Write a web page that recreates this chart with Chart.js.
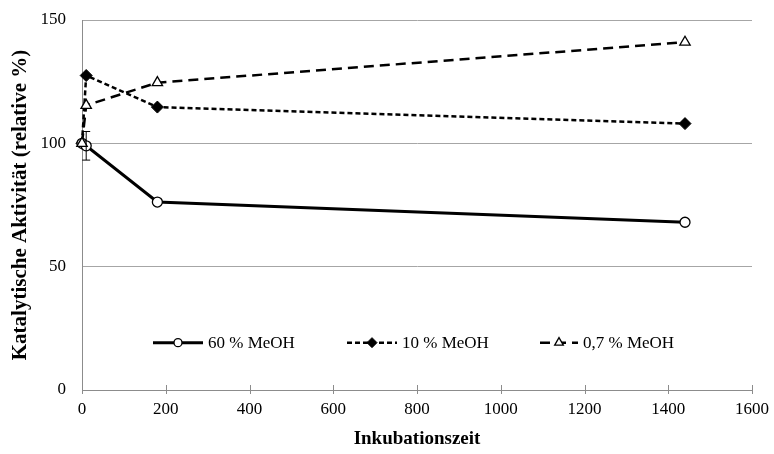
<!DOCTYPE html>
<html>
<head>
<meta charset="utf-8">
<script src="https://cdn.jsdelivr.net/npm/chart.js@4.4.1/dist/chart.umd.min.js"></script>
<style>
    html, body { margin: 0; padding: 0; background: #fff; }
    #wrap { width: 774px; height: 454px; }
</style>
</head>
<body>
<div id="wrap"><canvas id="aktivitaetChart"></canvas></div>
<script>
const zeit = [0, 10, 180, 1440];
const meoh60 = [100, 99, 76.2, 68];
const meoh10 = [100, 127.5, 114.7, 108];
const meoh07 = [100, 115.4, 124.6, 141];
const meoh60Fehler = [0, 5.8, 0, 0];
const xTicks = [0, 200, 400, 600, 800, 1000, 1200, 1400, 1600];
const yTicks = [0, 50, 100, 150];

const toPoints = (vals) => zeit.map((x, i) => ({ x: x, y: vals[i] }));
const serif = "'Liberation Serif', 'DejaVu Serif', serif";

// Fehlerbalken für 60 % MeOH
const errorBars = {
    id: "errorBars",
    afterDatasetsDraw(chart) {
        const ctx = chart.ctx;
        const xs = chart.scales.x, ys = chart.scales.y;
        ctx.save();
        ctx.strokeStyle = "#000";
        ctx.lineWidth = 1;
        meoh60Fehler.forEach((err, i) => {
            if (!err) return;
            const px = xs.getPixelForValue(zeit[i]);
            const top = ys.getPixelForValue(meoh60[i] + err);
            const bot = ys.getPixelForValue(meoh60[i] - err);
            ctx.beginPath();
            ctx.moveTo(px, top); ctx.lineTo(px, bot);
            ctx.moveTo(px - 4, top); ctx.lineTo(px + 4, top);
            ctx.moveTo(px - 4, bot); ctx.lineTo(px + 4, bot);
            ctx.stroke();
        });
        ctx.restore();
    },
};

// Teilstriche der x-Achse, die die Achse kreuzen
const crossTicks = {
    id: "crossTicks",
    beforeDatasetsDraw(chart) {
        const ctx = chart.ctx;
        const xs = chart.scales.x;
        const yb = chart.chartArea.bottom;
        ctx.save();
        ctx.strokeStyle = "#8c8c8c";
        ctx.lineWidth = 1;
        ctx.beginPath();
        xTicks.forEach((v) => {
            const px = Math.round(xs.getPixelForValue(v)) + 0.5;
            ctx.moveTo(px, yb - 5);
            ctx.lineTo(px, yb + 4);
        });
        ctx.stroke();
        ctx.restore();
    },
};

// Legende im Diagrammbereich, Linie mit Marker in der Mitte
const innerLegend = {
    id: "innerLegend",
    afterDraw(chart) {
        const ctx = chart.ctx;
        const area = chart.chartArea;
        const y = area.top + (area.bottom - area.top) * 0.872;
        const starts = [153, 347, 540];
        const labels = ["60 % MeOH", "10 % MeOH", "0,7 % MeOH"];
        ctx.save();
        ctx.font = "17px " + serif;
        ctx.textBaseline = "middle";
        labels.forEach((lab, i) => {
            const ds = chart.data.datasets.find((d) => d.label === lab);
            const x0 = starts[i], len = i === 2 ? 38 : 50;
            ctx.strokeStyle = "#000";
            ctx.lineWidth = ds.borderWidth;
            ctx.setLineDash(ds.borderDash || []);
            ctx.beginPath();
            ctx.moveTo(x0, y);
            ctx.lineTo(x0 + len, y);
            ctx.stroke();
            ctx.setLineDash([]);
            ctx.fillStyle = ds.pointBackgroundColor;
            ctx.strokeStyle = "#000";
            ctx.lineWidth = ds.pointBorderWidth;
            Chart.helpers.drawPoint(ctx, {
                pointStyle: ds.pointStyle,
                radius: ds.pointRadius - 1,
                borderWidth: ds.pointBorderWidth,
            }, x0 + len / 2, y);
            ctx.fillStyle = "#000";
            ctx.fillText(lab, x0 + len + 5, y + 1);
        });
        ctx.restore();
    },
};

new Chart(document.getElementById("aktivitaetChart"), {
    type: "line",
    data: {
        datasets: [
            {
                label: "0,7 % MeOH",
                data: toPoints(meoh07),
                borderColor: "#000",
                borderWidth: 2.5,
                borderDash: [10, 6],
                pointStyle: "triangle",
                pointRadius: 6,
                pointBorderWidth: 1.3,
                pointBackgroundColor: "#fff",
                pointBorderColor: "#000",
                clip: false,
            },
            {
                label: "60 % MeOH",
                data: toPoints(meoh60),
                borderColor: "#000",
                borderWidth: 3,
                pointStyle: "circle",
                pointRadius: 5,
                pointBorderWidth: 1.3,
                pointBackgroundColor: "#fff",
                pointBorderColor: "#000",
                clip: false,
            },
            {
                label: "10 % MeOH",
                data: toPoints(meoh10),
                borderColor: "#000",
                borderWidth: 2.5,
                borderDash: [5, 3],
                pointStyle: "rectRot",
                pointRadius: 6,
                pointBorderWidth: 1,
                pointBackgroundColor: "#000",
                pointBorderColor: "#000",
                clip: false,
            },
        ],
    },
    options: {
        responsive: true,
        maintainAspectRatio: false,
        animation: false,
        layout: { padding: { left: 8, right: 22, top: 20, bottom: 4 } },
        plugins: {
            legend: { display: false },
            tooltip: { enabled: false },
        },
        scales: {
            x: {
                type: "linear",
                min: 0,
                max: 1600,
                afterBuildTicks: (s) => { s.ticks = xTicks.map((v) => ({ value: v })); },
                grid: {
                    drawOnChartArea: false,
                    drawTicks: false,
                },
                border: { color: "#8c8c8c" },
                ticks: {
                    color: "#000",
                    font: { family: serif, size: 17 },
                    padding: 9,
                    maxRotation: 0,
                    callback: (v) => String(v),
                },
                title: {
                    display: true,
                    text: "Inkubationszeit",
                    color: "#000",
                    font: { family: serif, size: 19, weight: "bold" },
                    padding: { top: 12, bottom: 0 },
                },
                afterFit: (s) => {
                    s.height = 60;
                    s.paddingLeft = 0;
                    s.paddingRight = 0;
                },
            },
            y: {
                min: 0,
                max: 150,
                afterBuildTicks: (s) => { s.ticks = yTicks.map((v) => ({ value: v })); },
                grid: {
                    color: "#a6a6a6",
                    drawTicks: false,
                },
                border: { color: "#8c8c8c" },
                ticks: {
                    color: "#000",
                    font: { family: serif, size: 17 },
                    padding: 16,
                },
                title: {
                    display: true,
                    text: "Katalytische Aktivität (relative %)",
                    color: "#000",
                    font: { family: serif, size: 21, weight: "bold" },
                    padding: { top: 0, bottom: 0 },
                },
                afterFit: (s) => {
                    s.width = 74;
                    s.paddingTop = 0;
                    s.paddingBottom = 0;
                },
            },
        },
    },
    plugins: [crossTicks, errorBars, innerLegend],
});
</script>
</body>
</html>
